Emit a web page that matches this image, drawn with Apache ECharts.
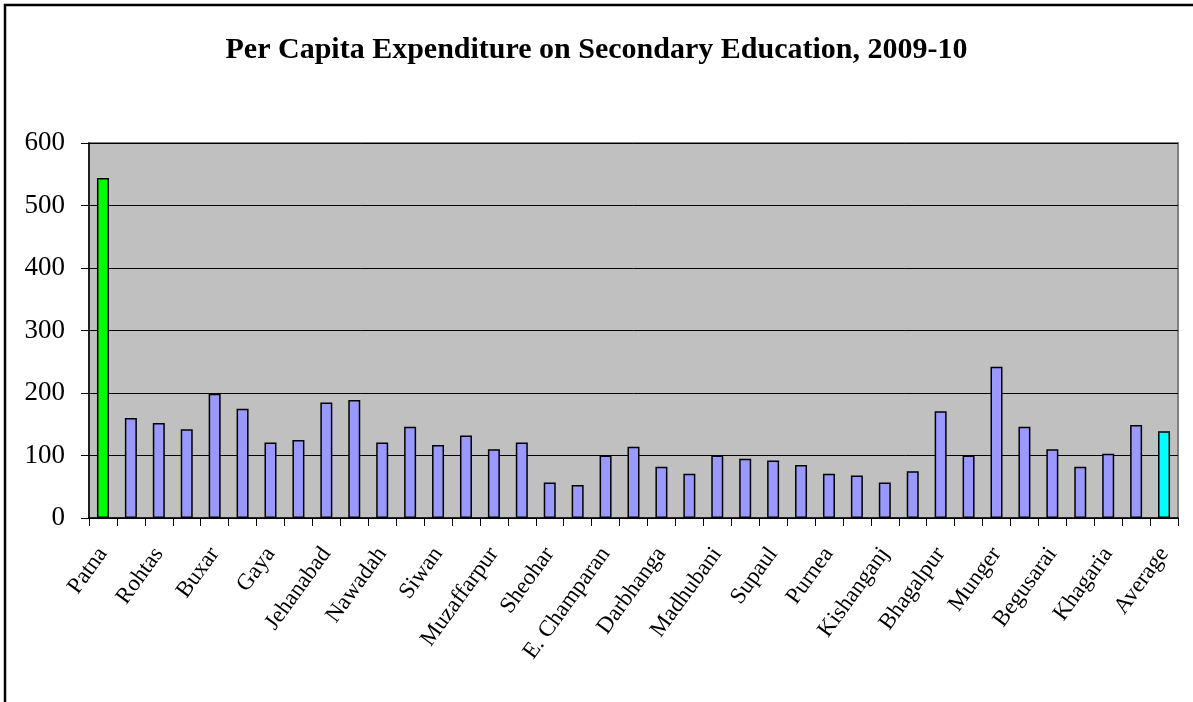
<!DOCTYPE html>
<html>
<head>
<meta charset="utf-8">
<script src="https://cdn.jsdelivr.net/npm/echarts@6/dist/echarts.min.js"></script>
<style>
  html, body { margin: 0; padding: 0; background: #fff; }
  #main { width: 1193px; height: 702px; }
</style>
</head>
<body>
<div id="main"></div>
<script>
// districts of Bihar, only every other name is printed on the axis
var districts = [
    'Patna', 'Nalanda', 'Rohtas', 'Bhojpur', 'Buxar', 'Kaimur', 'Gaya', 'Aurangabad',
    'Jehanabad', 'Arwal', 'Nawadah', 'Saran', 'Siwan', 'Gopalganj', 'Muzaffarpur',
    'Sitamarhi', 'Sheohar', 'W. Champaran', 'E. Champaran', 'Vaishali', 'Darbhanga',
    'Samastipur', 'Madhubani', 'Saharsa', 'Supaul', 'Madhepura', 'Purnea', 'Araria',
    'Kishanganj', 'Katihar', 'Bhagalpur', 'Banka', 'Munger', 'Lakhisarai', 'Begusarai',
    'Sheikhpura', 'Khagaria', 'Jamui', 'Average'
];
var expenditure = [
    544, 160, 152, 142, 199, 175, 121, 125,
    185, 189, 121, 146, 117, 132, 110,
    121, 57, 53, 100, 114, 82,
    71, 100, 95, 92, 85, 71, 68,
    57, 75, 171, 100, 242, 146, 110,
    82, 103, 149, 139
];
var yTicks = [0, 100, 200, 300, 400, 500, 600];
var titleText = 'Per Capita Expenditure on Secondary Education, 2009-10';

var barColor = function (name) {
    if (name === 'Patna') return '#00FF00';
    if (name === 'Average') return '#00FFFF';
    return '#9999FF';
};

var myChart = echarts.init(document.getElementById('main'));
var option = {
    animation: false,
    backgroundColor: '#ffffff',
    title: {
        text: titleText,
        left: 'center',
        top: 30,
        textStyle: {
            fontFamily: 'Liberation Serif',
            fontWeight: 'bold',
            fontSize: 30,
            color: '#000'
        }
    },
    graphic: [
        {
            type: 'rect',
            shape: { x: 5, y: 5, width: 1200, height: 710 },
            style: { fill: null, stroke: '#000', lineWidth: 2.5 },
            silent: true
        }
    ],
    grid: {
        left: 89,
        right: 15,
        top: 143,
        bottom: 184,
        show: true,
        backgroundColor: '#C0C0C0',
        borderColor: '#808080',
        borderWidth: 2
    },
    xAxis: {
        type: 'category',
        data: districts,
        axisLine: { lineStyle: { color: '#000', width: 1.5 } },
        axisTick: { show: true, interval: 0, length: 8, lineStyle: { color: '#000' } },
        axisLabel: {
            interval: 1,
            rotate: 54,
            margin: 32,
            color: '#000',
            fontFamily: 'Liberation Serif',
            fontSize: 23
        }
    },
    yAxis: {
        type: 'value',
        min: yTicks[0],
        max: yTicks[yTicks.length - 1],
        interval: 100,
        axisLine: { show: true, lineStyle: { color: '#000', width: 1.5 } },
        axisTick: { show: true, length: 8, lineStyle: { color: '#000' } },
        splitLine: { lineStyle: { color: '#000', width: 1 } },
        axisLabel: {
            margin: 24,
            color: '#000',
            fontFamily: 'Liberation Serif',
            fontSize: 27
        }
    },
    series: [
        {
            type: 'bar',
            barWidth: 12,
            data: districts.map(function (name, i) {
                return {
                    value: expenditure[i],
                    itemStyle: { color: barColor(name) }
                };
            }),
            itemStyle: { borderColor: '#000', borderWidth: 1.5 }
        }
    ]
};
myChart.setOption(option);
</script>
</body>
</html>
